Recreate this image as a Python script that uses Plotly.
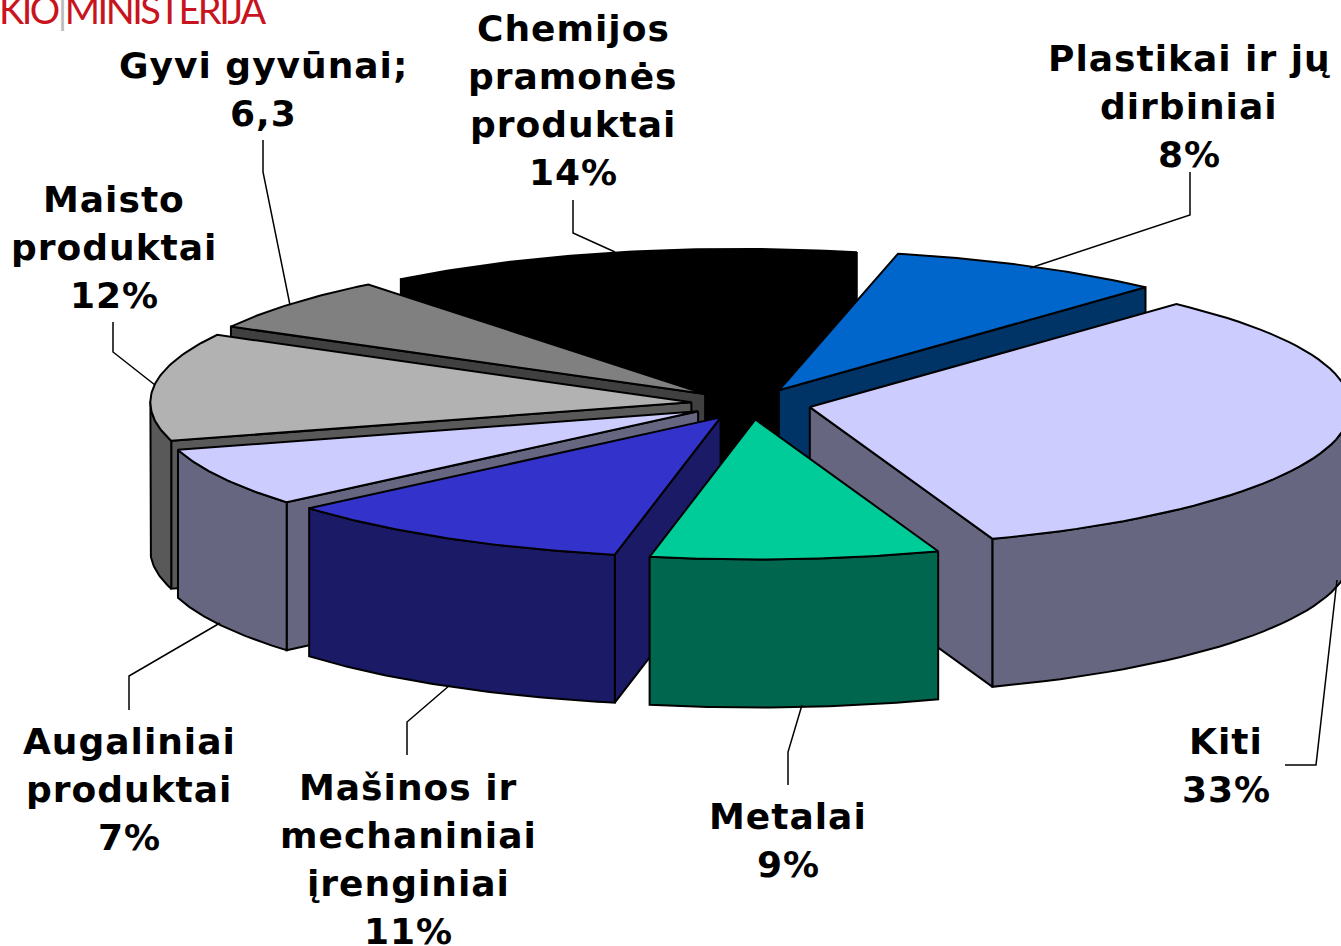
import math
import plotly.graph_objects as go

# ---- data (clockwise from the back of the pie) ----
categories = ["Chemijos pramonės produktai", "Plastikai ir jų dirbiniai", "Kiti", "Metalai",
              "Mašinos ir mechaniniai įrenginiai", "Augaliniai produktai", "Maisto produktai", "Gyvi gyvūnai"]
# shares; the printed labels are rounded
values = [14.2, 8.3, 32.6, 8.6, 10.6, 6.8, 12.4, 6.3]
label_lines = [["Chemijos", "pramonės", "produktai", "14%"], ["Plastikai ir jų", "dirbiniai", "8%"],
               ["Kiti", "33%"], ["Metalai", "9%"], ["Mašinos ir", "mechaniniai", "įrenginiai", "11%"],
               ["Augaliniai", "produktai", "7%"], ["Maisto", "produktai", "12%"], ["Gyvi gyvūnai;", "6,3"]]

# ---- style ----
top_colors = ["#000000", "#0066CC", "#CCCCFF", "#00CC99", "#3333CC", "#CCCCFF", "#B2B2B2", "#808080"]
side_colors = ["#000000", "#003366", "#666680", "#00664D", "#1A1A66", "#666680", "#595959", "#404040"]
draw_order = [0, 7, 1, 6, 2, 5, 4, 3]
label_pos = [(573, 28), (1189, 58), (1226, 741), (788, 816), (408, 787), (129, 741), (114, 199), (263, 65)]
leaders = [
    [(573, 200), (573, 233), (615, 252)],
    [(1190, 172), (1190, 215), (1030, 268)],
    [(1285, 765), (1316, 765), (1337, 580)],
    [(788, 785), (788, 752), (802, 705)],
    [(407, 755), (407, 722), (450, 685)],
    [(129, 710), (129, 676), (220, 623)],
    [(113, 322), (113, 352), (155, 385)],
    [(263, 140), (263, 172), (290, 305)],
]
CX, CY, RX, RY, DEPTH, EXPLODE, START = 751, 404, 541, 140, 148, 60, -38.5
LINE_STEP = 48


def pt(cx, cy, deg):
    a = math.radians(deg)
    return cx + RX * math.sin(a), cy - RY * math.cos(a)


fig = go.Figure()


def poly(points, fill):
    fig.add_trace(go.Scatter(x=[p[0] for p in points] + [points[0][0]],
                             y=[p[1] for p in points] + [points[0][1]],
                             mode="lines", fill="toself", fillcolor=fill,
                             line=dict(color="#000000", width=2), hoverinfo="skip", showlegend=False))


total = sum(values)
spans = []
acc = START
for v in values:
    spans.append((acc, acc + v / total * 360))
    acc = spans[-1][1]

for i in draw_order:
    a, b = spans[i]
    mid = math.radians((a + b) / 2)
    cx = CX + EXPLODE * math.sin(mid)
    cy = CY - EXPLODE * RY / RX * math.cos(mid)
    n = 60
    arc = [pt(cx, cy, a + (b - a) * k / n) for k in range(n + 1)]
    down = lambda p: (p[0], p[1] + DEPTH)
    # radial faces that look toward the viewer
    if math.cos(math.radians(a - 90)) < 0:
        poly([(cx, cy), arc[0], down(arc[0]), down((cx, cy))], side_colors[i])
    if math.cos(math.radians(b + 90)) < 0:
        poly([(cx, cy), arc[-1], down(arc[-1]), down((cx, cy))], side_colors[i])
    # outer rim, front half only
    front = [pt(cx, cy, a + (b - a) * k / n) for k in range(n + 1)
             if math.cos(math.radians(a + (b - a) * k / n)) <= 0.02]
    if len(front) > 1:
        poly(front + [down(p) for p in reversed(front)], side_colors[i])
    poly([(cx, cy)] + arc, top_colors[i])

for line in leaders:
    fig.add_trace(go.Scatter(x=[p[0] for p in line], y=[p[1] for p in line], mode="lines",
                             line=dict(color="#000000", width=1.5), hoverinfo="skip", showlegend=False))

annotations = []
for lines, (x, y) in zip(label_lines, label_pos):
    for k, t in enumerate(lines):
        annotations.append(dict(x=x, y=y + k * LINE_STEP, xref="x", yref="y", showarrow=False,
                                text=f'<span style="letter-spacing:1px">{t}</span>',
                                xanchor="center", yanchor="middle",
                                font=dict(family="DejaVu Sans", size=36, color="#000000", weight="bold")))
annotations.append(dict(x=0, y=34, xshift=-3, xref="x", yref="y", showarrow=False, xanchor="left", yanchor="bottom",
                        text='<span style="letter-spacing:-2.5px">KIO<span style="color:#BBBBBB">|</span>MINISTERIJA</span>',
                        font=dict(family="Lato", size=38, color="#C8141E")))

fig.update_layout(width=1341, height=946, margin=dict(l=0, r=0, t=0, b=0), autosize=False,
                  paper_bgcolor="#FFFFFF", plot_bgcolor="#FFFFFF", annotations=annotations,
                  xaxis=dict(range=[0, 1341], visible=False, fixedrange=True),
                  yaxis=dict(range=[946, 0], visible=False, fixedrange=True))
fig.write_html("out.html", config={"displayModeBar": False},
               post_script="document.body.style.margin='0';document.body.style.overflow='hidden';")
